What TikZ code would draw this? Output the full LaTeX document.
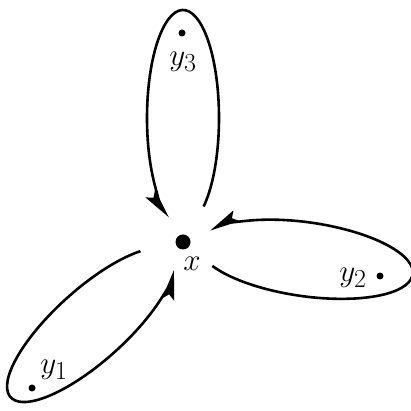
\documentclass[tikz,border=0pt]{standalone}
\usetikzlibrary{arrows.meta}
\begin{document}
\begin{tikzpicture}[x=1pt,y=1pt,
  loopline/.style={line width=2.6pt, -{Stealth[length=30pt,width=12pt,inset=5pt]}},
  bigdot/.style={circle, fill, inner sep=0pt, minimum size=15pt},
  smalldot/.style={circle, fill, inner sep=0pt, minimum size=7pt},
  lbl/.style={font=\Huge, scale=1.25, transform shape}]
\useasboundingbox (0,0) rectangle (411,411);
\coordinate (X) at (183,169);
\node[bigdot] (x) at (X) {};
\node[lbl] (xl) at (192,147) {$x$};
% top loop
\begin{scope}[shift={(X)}, rotate=90]
  \draw[loopline] ({124+108*cos(-145)},{36*sin(-145)}) arc[start angle=-145, end angle=157, x radius=108, y radius=36];
\end{scope}
% right loop
\begin{scope}[shift={(X)}, rotate=-8]
  \draw[loopline] ({124+108*cos(-148)},{37*sin(-148)}) arc[start angle=-148, end angle=156, x radius=108, y radius=37];
\end{scope}
% bottom-left loop
\begin{scope}[shift={(X)}, rotate=222]
  \draw[loopline] ({124+108*cos(-143)},{36*sin(-143)}) arc[start angle=-143, end angle=156, x radius=108, y radius=36];
\end{scope}
\node[smalldot] (d3) at (182,378) {};
\node[smalldot] (d2) at (380,135) {};
\node[smalldot] (d1) at (32,23) {};
\node[lbl] (l3) at (183,349) {$y_3$};
\node[lbl] (l2) at (353,133) {$y_2$};
\node[lbl] (l1) at (54,41) {$y_1$};
\end{tikzpicture}
\end{document}
